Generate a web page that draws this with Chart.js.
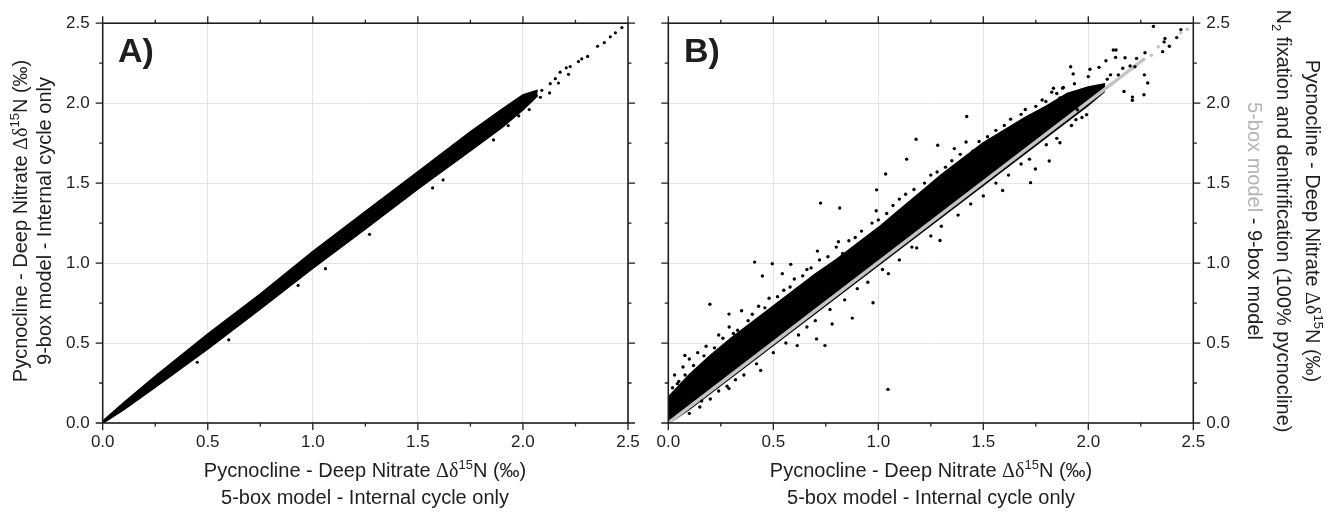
<!DOCTYPE html>
<html>
<head>
<meta charset="utf-8">
<script src="https://cdn.jsdelivr.net/npm/chart.js@4.4.1/dist/chart.umd.min.js"></script>
<style>
  html, body { margin: 0; padding: 0; background: #fff; }
  #wrap { position: relative; width: 1334px; height: 512px; overflow: hidden;
          font-family: 'Liberation Sans', Arial, sans-serif; color: #1e1e1e; }
  canvas { position: absolute; top: 0; }
  #chartA { left: 0; }
  #chartB { left: 620px; }
  .title { position: absolute; white-space: nowrap; font-size: 20px; line-height: 1;
           transform: translate(-50%, -50%); }
  .title.rotL { transform: translate(-50%, -50%) rotate(-90deg); }
  .title.rotR { transform: translate(-50%, -50%) rotate(90deg); }
  .gk { font-family: 'Liberation Serif', 'DejaVu Serif', serif; }
  .title sup { font-size: 13px; vertical-align: 8px; line-height: 0; }
  .title sub { font-size: 13px; vertical-align: -5px; line-height: 0; }
  .grey { color: #b4b4b4; }
  .panel { position: absolute; font-weight: bold; font-size: 34px; line-height: 1; }
</style>
</head>
<body>
<div id="wrap">
  <canvas id="chartA" width="660" height="512"></canvas>
  <canvas id="chartB" width="714" height="512"></canvas>

  <div class="panel" style="left:118px; top:33px;">A)</div>
  <div class="panel" style="left:684px; top:33px;">B)</div>

  <div class="title rotL" style="left:20px; top:221px;">Pycnocline - Deep Nitrate <span class="gk">&Delta;&delta;</span><sup>15</sup>N (&permil;)</div>
  <div class="title rotL" style="left:44px; top:221px;">9-box model - Internal cycle only</div>

  <div class="title" style="left:365px; top:470px;">Pycnocline - Deep Nitrate <span class="gk">&Delta;&delta;</span><sup>15</sup>N (&permil;)</div>
  <div class="title" style="left:365px; top:497px;">5-box model - Internal cycle only</div>

  <div class="title" style="left:931px; top:470px;">Pycnocline - Deep Nitrate <span class="gk">&Delta;&delta;</span><sup>15</sup>N (&permil;)</div>
  <div class="title" style="left:931px; top:497px;">5-box model - Internal cycle only</div>

  <div class="title rotR" style="left:1313px; top:221px;">Pycnocline - Deep Nitrate <span class="gk">&Delta;&delta;</span><sup>15</sup>N (&permil;)</div>
  <div class="title rotR" style="left:1284px; top:221px;">N<sub>2</sub> fixation and denitrification (100% pycnocline)</div>
  <div class="title rotR" style="left:1255px; top:221px;"><span class="grey">5-box model</span> - 9-box model</div>
</div>

<script>
// axis ticks (both panels share 0 - 2.5)
const majorTicks = [0, 0.5, 1.0, 1.5, 2.0, 2.5];
const minorTicks = [0.25, 0.75, 1.25, 1.75, 2.25];

// --- Panel A: 9-box vs 5-box, internal cycle only ---
// dense band read as lower / upper envelope
const aBandX     = [0, 0.1, 0.25, 0.5, 0.75, 1.0, 1.25, 1.5, 1.75, 1.9, 2.0, 2.07];
const aBandUpper = [0.01, 0.125, 0.29, 0.555, 0.805, 1.07, 1.32, 1.57, 1.82, 1.96, 2.05, 2.08];
const aBandLower = [0, 0.085, 0.225, 0.465, 0.715, 0.97, 1.215, 1.465, 1.705, 1.85, 1.96, 2.05];
// single points outside the band
const aPtsX = [2.471, 2.44, 2.416, 2.387, 2.355, 2.308, 2.28, 2.264, 2.225, 2.206, 2.217, 2.177, 2.154, 2.169, 2.13,
               2.127, 2.09, 2.083, 2.034, 2.03, 1.98, 1.93, 1.86, 1.62, 1.57, 1.06, 0.93, 0.6, 0.45, 1.27];
const aPtsY = [2.473, 2.44, 2.415, 2.378, 2.356, 2.292, 2.277, 2.26, 2.229, 2.221, 2.18, 2.194, 2.153, 2.126, 2.122,
               2.064, 2.08, 2.037, 2.017, 1.96, 1.92, 1.86, 1.77, 1.52, 1.47, 0.965, 0.86, 0.52, 0.38, 1.18];

// --- Panel B: N2 fixation + denitrification (black), 5-box vs 9-box (grey) ---
const bBandX     = [0, 0.1, 0.2, 0.3, 0.4, 0.5, 0.6, 0.7, 0.8, 0.9, 1.0, 1.1, 1.2, 1.3, 1.4, 1.5, 1.6, 1.7, 1.8, 1.9, 2.0, 2.08];
const bBandUpper = [0.16, 0.3, 0.42, 0.53, 0.63, 0.73, 0.83, 0.93, 1.02, 1.12, 1.22, 1.33, 1.44, 1.55, 1.65, 1.75, 1.83, 1.91, 1.98, 2.06, 2.1, 2.12];
const bBandLower = [-0.01, 0.08, 0.18, 0.28, 0.38, 0.48, 0.58, 0.68, 0.78, 0.88, 0.98, 1.08, 1.18, 1.28, 1.38, 1.48, 1.58, 1.68, 1.78, 1.88, 1.98, 2.07];
const bPtsX = [
  0.725, 0.816, 0.99, 0.411, 0.495, 0.448, 0.198, 0.289, 0.543, 0.583, 0.349, 0.71, 0.81, 0.079, 0.043,
  0.614, 0.746, 0.876, 0.975, 0.706, 0.44, 0.289, 0.159, 0.78, 1.046,
  1.421, 1.18, 1.283, 1.135, 1.035, 0.992, 1.362, 1.418, 1.294, 1.725, 1.814, 1.865, 1.748, 1.592, 1.048, 1.183, 1.881, 1.834,
  2.31, 2.441, 2.421, 2.365, 2.361, 2.386, 2.354, 2.119, 2.132, 2.27, 1.916, 2.084, 2.13, 2.175, 1.928, 2.008, 2.051,
  2.23, 2.222, 2.199, 2.164, 2.143, 2.106, 2.09, 2.267, 2.283, 2.265, 2.21, 2.21, 2.17, 1.934, 1.878, 1.826, 2.0,
  1.948, 1.992, 1.941, 1.798, 1.865,
  0.02, 0.05, 0.08, 0.12, 0.17, 0.22, 0.26, 0.33, 0.38, 0.46, 0.52, 0.58, 0.64, 0.68, 0.76, 0.86, 0.92, 1.0,
  1.07, 1.13, 1.22, 1.28, 1.35, 1.45, 1.52, 1.6, 1.68, 1.75,
  0.03, 0.07, 0.1, 0.14, 0.18, 0.24, 0.29, 0.31, 0.4, 0.43, 0.48, 0.55, 0.6, 0.66, 0.72, 0.8, 0.83, 0.89, 0.97,
  1.04, 1.1, 1.17, 1.25, 1.32, 1.39, 1.48, 1.56, 1.63, 1.7, 1.78, 1.85,
  0.1, 0.2, 0.28, 0.36, 0.5, 0.62, 0.7, 0.84, 0.95, 1.1, 1.25, 1.38, 1.5, 1.62, 1.72, 1.85, 1.97,
  0.15, 0.24, 0.32, 0.42, 0.56, 0.66, 0.77, 0.9, 1.02, 1.16, 1.3, 1.44, 1.56, 1.68, 1.8, 1.92
];
const bPtsY = [
  1.375, 1.344, 1.327, 1.006, 0.996, 0.919, 0.743, 0.681, 0.934, 0.992, 0.702, 1.075, 1.133, 0.422, 0.246,
  0.484, 0.484, 0.656, 0.752, 0.526, 0.329, 0.215, 0.137, 0.619, 0.21,
  1.917, 1.774, 1.737, 1.65, 1.557, 1.458, 1.716, 1.757, 1.141, 1.503, 1.638, 1.752, 1.588, 1.454, 0.934, 1.095, 2.099, 2.093,
  2.48, 2.46, 2.41, 2.404, 2.383, 2.356, 2.322, 2.332, 2.332, 2.315, 2.228, 2.265, 2.286, 2.284, 2.183, 2.212, 2.224,
  2.28, 2.228, 2.233, 2.218, 2.177, 2.177, 2.15, 2.177, 2.126, 2.053, 2.038, 2.018, 2.073, 2.121, 2.094, 2.069, 2.166,
  1.959, 1.928, 1.897, 2.011, 2.032,
  0.22, 0.26, 0.3, 0.36, 0.42, 0.47, 0.53, 0.58, 0.64, 0.72, 0.79, 0.85, 0.92, 0.97, 1.04, 1.14, 1.2, 1.27,
  1.36, 1.43, 1.5, 1.57, 1.64, 1.7, 1.79, 1.86, 1.93, 1.98,
  0.3, 0.35, 0.4, 0.44, 0.48, 0.55, 0.6, 0.56, 0.68, 0.73, 0.78, 0.83, 0.9, 0.96, 1.02, 1.1, 1.06, 1.16, 1.25,
  1.31, 1.4, 1.46, 1.55, 1.6, 1.68, 1.76, 1.83, 1.9, 1.96, 2.02, 2.06,
  0.06, 0.15, 0.23, 0.3, 0.44, 0.55, 0.64, 0.77, 0.88, 1.02, 1.17, 1.3, 1.42, 1.55, 1.65, 1.78, 1.91,
  0.1, 0.2, 0.27, 0.37, 0.5, 0.6, 0.71, 0.84, 0.96, 1.1, 1.23, 1.37, 1.5, 1.62, 1.74, 1.86
];
// grey 5-box vs 9-box comparison: tight line plus a few loose dots at the top
const bGreyX = [0, 2.27];
const bGreyY = [0, 2.28];
const bGreyDotX = [2.30, 2.333, 2.44, 2.471];
const bGreyDotY = [2.30, 2.352, 2.44, 2.462];

const FONT = "'Liberation Sans', Arial, sans-serif";
const INK = '#1e1e1e';

const toPts = (xs, ys) => xs.map((x, i) => ({ x: x, y: ys[i] }));

// frame + outward major/minor ticks on all four sides
const framePlugin = {
  id: 'frame',
  afterDraw(chart) {
    const { ctx, chartArea: a, scales } = chart;
    const xs = scales.x, ys = scales.y;
    ctx.save();
    ctx.strokeStyle = INK;
    ctx.lineWidth = 1.6;
    ctx.strokeRect(a.left, a.top, a.right - a.left, a.bottom - a.top);
    ctx.lineWidth = 1.3;
    ctx.beginPath();
    const mark = (v, len) => {
      const px = xs.getPixelForValue(v), py = ys.getPixelForValue(v);
      ctx.moveTo(px, a.bottom); ctx.lineTo(px, a.bottom + len);
      ctx.moveTo(px, a.top); ctx.lineTo(px, a.top - len);
      ctx.moveTo(a.left, py); ctx.lineTo(a.left - len, py);
      ctx.moveTo(a.right, py); ctx.lineTo(a.right + len, py);
    };
    majorTicks.forEach(v => mark(v, 7));
    minorTicks.forEach(v => mark(v, 3.5));
    ctx.stroke();
    ctx.restore();
  }
};

function axes(yPos, yWidth) {
  const tickFont = { family: FONT, size: 17 };
  return {
    x: {
      type: 'linear', min: 0, max: 2.5, position: 'bottom',
      afterBuildTicks: s => { s.ticks = majorTicks.map(v => ({ value: v })); },
      ticks: { padding: 9, color: INK, font: tickFont, maxRotation: 0, autoSkip: false,
               callback: v => v.toFixed(1) },
      grid: { color: '#e4e4e4', lineWidth: 1, drawTicks: false },
      border: { display: false },
      afterFit: s => { s.height = 89; }
    },
    y: {
      type: 'linear', min: 0, max: 2.5, position: yPos,
      afterBuildTicks: s => { s.ticks = majorTicks.map(v => ({ value: v })); },
      ticks: { display: yWidth > 0, padding: 13, color: INK, font: tickFont, autoSkip: false,
               callback: v => v.toFixed(1) },
      grid: { color: '#e4e4e4', lineWidth: 1, drawTicks: false },
      border: { display: false },
      afterFit: s => { s.width = yWidth; }
    }
  };
}

function bandSets(xs, upper, lower, edge) {
  return [
    { data: toPts(xs, upper), borderColor: '#000', borderWidth: 2, pointRadius: 0,
      backgroundColor: '#000', fill: '+1', order: 3 },
    { data: toPts(xs, lower), borderColor: '#000', borderWidth: edge, pointRadius: 0,
      fill: false, order: 4 }
  ];
}

function dots(xs, ys, color, r, order) {
  return { data: toPts(xs, ys), showLine: false, pointRadius: r, pointBorderWidth: 0,
           pointBackgroundColor: color, backgroundColor: color, order: order };
}

function makeChart(id, datasets, yPos, yWidth, padding) {
  return new Chart(document.getElementById(id), {
    type: 'line',
    data: { datasets: datasets },
    options: {
      responsive: false,
      animation: false,
      layout: { padding: padding },
      plugins: { legend: { display: false }, tooltip: { enabled: false } },
      scales: axes(yPos, yWidth),
      elements: { line: { tension: 0 } }
    },
    plugins: [framePlugin]
  });
}

makeChart('chartA', [
  ...bandSets(aBandX, aBandUpper, aBandLower, 2),
  dots(aPtsX, aPtsY, '#000', 1.6, 0)
], 'left', 102.7, { left: 0, top: 19.3, right: 32, bottom: 0 });

makeChart('chartB', [
  ...bandSets(bBandX, bBandUpper, bBandLower, 0),
  { data: toPts(bGreyX, bGreyY), borderColor: '#c4c4c4', borderWidth: 3.5, pointRadius: 0, fill: false, order: 2 },
  dots(bGreyDotX, bGreyDotY, '#c4c4c4', 1.8, 1),
  dots(bPtsX, bPtsY, '#000', 1.7, 0)
], 'right', 140.7, { left: 48.3, top: 19.3, right: 0, bottom: 0 });
</script>
</body>
</html>
